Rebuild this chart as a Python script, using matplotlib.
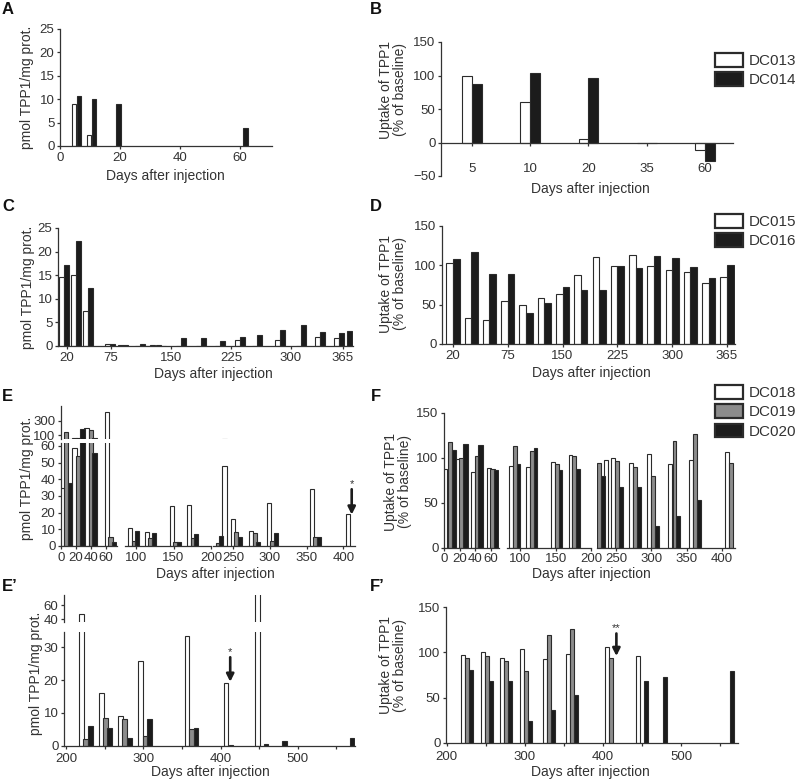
import matplotlib
matplotlib.use("Agg")
import matplotlib.pyplot as plt
from matplotlib.patches import Patch


# ------------------ CONFIG ------------------

plt.rcParams['font.family'] = ['Liberation Sans', 'DejaVu Sans']

W, H = 800, 779
INK = '#333333'
EDGE = '#2b2b2b'
WHITE, GRAY, BLACK = '#ffffff', '#8c8c8c', '#1c1c1c'
TICK_FS = 9.5
LABEL_FS = 10
XLABEL = "Days after injection"
UPTAKE = "Uptake of TPP1\n(% of baseline)"
PMOL = "pmol TPP1/mg prot."


# ------------------ DATA ------------------

# A: TPP1 level, DC013 (white) / DC014 (black)
a_dc013_days = [4.6, 9.7]
a_dc013 = [9.0, 2.3]
a_dc014_days = [6.3, 11.4, 19.5, 61.9]
a_dc014 = [10.6, 10.0, 9.0, 3.8]

# B: uptake, categorical days
b_days = ["5", "10", "20", "35", "60"]
b_dc013 = [100, 60, 5, 0, -11]
b_dc014 = [88, 104, 97, 0, -27]

# C: TPP1 level, DC015 / DC016
c_days = [16.6, 32, 46.6, 73.8, 90, 111, 124, 138, 163, 188, 211, 236, 257.5,
          286, 312.5, 336, 360, 370]
c_dc015 = [14.6, 15.0, 7.5, 0.4, 0.15, 0, 0, 0.3, 0, 0.1, 0.1, 1.2, 0,
           1.2, 0, 2.0, 1.8, 0]
c_dc016 = [17.2, 22.3, 12.2, 0.35, 0.3, 0.5, 0.3, 0, 1.7, 1.8, 1.0, 1.9, 2.3,
           3.4, 4.4, 3.0, 2.8, 3.1]
c_ticks = [20, 75, 150, 225, 300, 365]

# D: uptake, 16 timepoints
d_labels = ["20", "", "", "75", "", "", "150", "", "", "225", "", "", "300", "", "", "365"]
d_dc015 = [103, 33, 31, 55, 50, 58, 63, 88, 110, 99, 113, 99, 94, 91, 78, 85]
d_dc016 = [108, 117, 89, 89, 40, 52, 72, 69, 69, 99, 96, 112, 109, 98, 84, 100]

# E: TPP1 level, DC018 / DC019 / DC020
e_dc018_days = [1.3, 18, 34, 61, 92, 115, 148, 171, 238, 249.6, 274.4, 298.4, 357.6, 407]
e_dc018 = [35, 59, 200, 430, 10.9, 8.1, 24.2, 24.5, 48, 16, 9, 26, 34, 19]
e_dc019_days = [6.9, 23, 39.6, 66, 97, 119, 152.7, 176, 228.7, 254, 279, 303, 362]
e_dc019 = [137, 54, 175, 5.5, 3, 4.5, 2.5, 5, 2, 8.5, 8, 3, 5.5]
e_dc020_days = [12.4, 28.7, 44.7, 70.7, 101, 124, 157, 180, 233, 258.7, 283.7, 308, 366.4]
e_dc020 = [38, 190, 56, 2.4, 8.8, 7.5, 2.5, 7.3, 6, 5.5, 2.5, 8, 5.5]

# F: uptake, DC018 / DC019 / DC020
f_dc018_days = [1.3, 18, 37.2, 57.3, 87.7, 111.3, 146.7, 171, 236, 245.7, 271.7,
                296.6, 327, 356.8, 407.7]
f_dc018 = [88, 99, 84, 89, 91, 90, 95, 103, 97, 100, 94, 104, 93, 98, 106]
f_dc019_days = [8, 22.6, 41.9, 62, 93, 116.5, 151.9, 176.4, 226, 251, 277, 302.5,
                333, 362.5, 413.5]
f_dc019 = [117, 100, 102, 88, 113, 107, 93, 102, 94, 96, 90, 79.5, 119, 126, 94.5]
f_dc020_days = [13, 27.4, 46.8, 66.9, 97.6, 121.7, 157, 181.8, 231, 257, 282,
                307.7, 338, 368]
f_dc020 = [109, 115, 113.6, 86, 93, 111, 86, 87, 80, 68, 68, 23.6, 35.6, 53]

# E': TPP1 level, later timepoints
ep_dc018_days = [220, 245.7, 270.6, 296, 356.7, 407, 448]
ep_dc018 = [48, 16, 9, 26, 33.5, 19, 80]
ep_dc019_days = [225.5, 251, 276, 302, 362.3]
ep_dc019 = [2, 8.5, 8.2, 3, 5]
ep_dc020_days = [231.7, 256.3, 281.8, 307.8, 368, 413.5, 458.8, 482.6, 570]
ep_dc020 = [6, 5.5, 2.5, 8, 5.3, 0.3, 0.5, 1.5, 2.5]

# F': uptake, later timepoints
fp_dc018_days = [220.8, 246, 270.6, 295.8, 325.3, 354.7, 405, 444.7]
fp_dc018 = [97, 100, 94, 104, 93, 98, 106, 96]
fp_dc019_days = [226, 251.5, 276, 301.3, 330.7, 360.3, 410.3]
fp_dc019 = [94, 96, 90, 79, 119, 126, 94]
fp_dc020_days = [231.3, 256.6, 281.3, 306.4, 335.8, 365.6, 454.8, 479.4, 564.6]
fp_dc020 = [80, 68, 68, 24, 36, 53, 68, 73, 79]


# ------------------ HELPERS ------------------

fig = plt.figure(figsize=(W / 100, H / 100), dpi=100)


def px_axes(x0, x1, y_top, y_bot):
    ax = fig.add_axes([x0 / W, 1 - y_bot / H, (x1 - x0) / W, (y_bot - y_top) / H])
    ax.patch.set_alpha(0)
    for side in ("top", "right"):
        ax.spines[side].set_visible(False)
    for side in ("left", "bottom"):
        ax.spines[side].set_color(INK)
        ax.spines[side].set_linewidth(0.9)
    ax.tick_params(direction="out", length=2.5, width=0.9, pad=1.5,
                   colors=INK, labelsize=TICK_FS)
    return ax


def hide(ax, side):
    ax.spines[side].set_visible(False)
    if side == "left":
        ax.tick_params(axis="y", left=False, labelleft=False)
    else:
        ax.tick_params(axis="x", bottom=False, labelbottom=False)


def broken(xsegs, ysegs):
    # xsegs: (px0, px1, d0, d1); ysegs: (py_top, py_bot, v0, v1), bottom row first
    grid = []
    for j, (yt, yb, v0, v1) in enumerate(ysegs):
        row = []
        for i, (x0, x1, d0, d1) in enumerate(xsegs):
            ax = px_axes(x0, x1, yt, yb)
            ax.set_xlim(d0, d1)
            ax.set_ylim(v0, v1)
            if i > 0:
                hide(ax, "left")
            if j > 0:
                hide(ax, "bottom")
            row.append(ax)
        grid.append(row)
    return grid


def bars(ax, x, y, color, width):
    ax.bar(x, y, width, color=color, edgecolor=EDGE, linewidth=0.8, zorder=2)


def text_px(x, y, s, **kw):
    kw.setdefault("color", INK)
    fig.text(x / W, 1 - y / H, s, **kw)


def ylabel_px(x, y, s):
    text_px(x, y, s, rotation=90, ha="center", va="center", fontsize=LABEL_FS,
            linespacing=1.05, multialignment="center")


def xlabel_px(x, y):
    text_px(x, y, XLABEL, ha="center", va="center", fontsize=LABEL_FS)


def legend_px(names, colors, x, y):
    handles = [Patch(facecolor=c, edgecolor=EDGE, linewidth=1.6) for c in colors]
    fig.legend(handles, names, loc="upper left", bbox_to_anchor=(x / W, 1 - y / H),
               frameon=False, fontsize=11, labelcolor=INK, handlelength=1.85,
               handleheight=1.0, handletextpad=0.35, labelspacing=0.28,
               borderpad=0, borderaxespad=0)


def star_arrow(ax, x, y0, y1, label):
    ax.annotate("", xy=(x, y1), xytext=(x, y0),
                arrowprops=dict(arrowstyle="-|>", color=BLACK, lw=1.9,
                                mutation_scale=11, shrinkA=0, shrinkB=0))
    ax.text(x, y0, label, ha="center", va="bottom", fontsize=8, color=INK)


# ------------------ A ------------------

ax = px_axes(60, 272, 29, 146)
bars(ax, a_dc013_days, a_dc013, WHITE, 1.5)
bars(ax, a_dc014_days, a_dc014, BLACK, 1.5)
ax.set_xlim(0, 70.7)
ax.set_ylim(0, 25)
ax.set_xticks([0, 20, 40, 60])
ax.set_yticks(range(0, 26, 5))
ylabel_px(27, 87, PMOL)
xlabel_px(165, 176)

# ------------------ B ------------------

ax = px_axes(441, 733, 42, 176)
pos = list(range(len(b_days)))
bars(ax, [p - 0.085 for p in pos], b_dc013, WHITE, 0.17)
bars(ax, [p + 0.085 for p in pos], b_dc014, BLACK, 0.17)
ax.set_xlim(-0.53, 4.48)
ax.set_ylim(-50, 150)
ax.spines["bottom"].set_position(("data", 0))
ax.set_xticks(pos)
ax.set_xticklabels(b_days)
ax.tick_params(axis="x", pad=12)
ax.set_yticks(range(-50, 151, 50))
ylabel_px(393, 90, UPTAKE)
xlabel_px(590, 189)
legend_px(["DC013", "DC014"], [WHITE, BLACK], 715, 53)

# ------------------ C ------------------

ax = px_axes(58, 353, 228, 346)
bars(ax, [d - 3.1 for d in c_days], c_dc015, WHITE, 6.2)
bars(ax, [d + 3.1 for d in c_days], c_dc016, BLACK, 6.2)
ax.set_xlim(9.1, 377.5)
ax.set_ylim(0, 25)
ax.set_xticks(c_ticks)
ax.set_yticks(range(0, 26, 5))
ylabel_px(28, 287, PMOL)
xlabel_px(213, 374)

# ------------------ D ------------------

ax = px_axes(442, 735, 226, 344)
pos = list(range(len(d_labels)))
bars(ax, [p - 0.18 for p in pos], d_dc015, WHITE, 0.36)
bars(ax, [p + 0.18 for p in pos], d_dc016, BLACK, 0.36)
ax.set_xlim(-0.6, 15.44)
ax.set_ylim(0, 150)
tick_pos = [p for p, t in zip(pos, d_labels) if t]
ax.set_xticks(tick_pos)
ax.set_xticklabels([t for t in d_labels if t])
ax.set_yticks(range(0, 151, 50))
ylabel_px(393, 284, UPTAKE)
xlabel_px(591, 373)
legend_px(["DC015", "DC016"], [WHITE, BLACK], 715, 214)

# ------------------ E ------------------

seg_xticks = [[0, 20, 40, 60], [100, 150, 200], [250, 300, 350, 400]]
grid = broken([(61, 116.7, 0, 74.3), (125, 211, 85.3, 200), (213, 355, 222.3, 416)],
              [(443, 546, 0, 61.7), (406, 439, 43, 514)])
for row in grid:
    for i, ax in enumerate(row):
        bars(ax, e_dc018_days, e_dc018, WHITE, 5.5)
        bars(ax, e_dc019_days, e_dc019, GRAY, 5.5)
        bars(ax, e_dc020_days, e_dc020, BLACK, 5.5)
        ax.set_xticks(seg_xticks[i])
grid[0][0].set_yticks(range(0, 61, 10))
grid[1][0].set_yticks([100, 300])
star_arrow(grid[0][2], 411.5, 34, 18.8, "*")
ylabel_px(27, 478, PMOL)
xlabel_px(215, 574)

# ------------------ F ------------------

grid = broken([(444, 499, 0, 70.5), (506.7, 591, 81, 200), (596.7, 735, 222.6, 418.8)],
              [(412.7, 547.7, 0, 150)])
for i, ax in enumerate(grid[0]):
    bars(ax, f_dc018_days, f_dc018, WHITE, 5.5)
    bars(ax, f_dc019_days, f_dc019, GRAY, 5.5)
    bars(ax, f_dc020_days, f_dc020, BLACK, 5.5)
    ax.set_xticks(seg_xticks[i])
grid[0][0].set_yticks(range(0, 151, 50))
ylabel_px(398, 482, UPTAKE)
xlabel_px(591, 574)
legend_px(["DC018", "DC019", "DC020"], [WHITE, GRAY, BLACK], 715, 385)

# ------------------ E' ------------------

grid = broken([(64, 355, 197.4, 574)],
              [(631.7, 745.7, 0, 34.8), (595, 621.7, 36.7, 74)])
for row in grid:
    ax = row[0]
    bars(ax, ep_dc018_days, ep_dc018, WHITE, 6)
    bars(ax, ep_dc019_days, ep_dc019, GRAY, 6)
    bars(ax, ep_dc020_days, ep_dc020, BLACK, 6)
ax = grid[0][0]
ax.set_xticks([200, 300, 400, 500])
ax.set_xticks([250, 350, 450, 550], minor=True)
ax.tick_params(which="minor", length=2.5, width=0.9, color=INK)
ax.tick_params(axis="x", pad=3)
ax.set_yticks([0, 10, 20, 30])
grid[1][0].set_yticks([40, 60])
star_arrow(ax, 412.5, 27, 19.5, "*")
ylabel_px(36, 673, PMOL)
xlabel_px(210, 772)

# ------------------ F' ------------------

ax = px_axes(446, 738, 607.3, 742.7)
bars(ax, fp_dc018_days, fp_dc018, WHITE, 5.5)
bars(ax, fp_dc019_days, fp_dc019, GRAY, 5.5)
bars(ax, fp_dc020_days, fp_dc020, BLACK, 5.5)
ax.set_xlim(199, 572.6)
ax.set_ylim(0, 150)
ax.set_xticks([200, 300, 400, 500])
ax.set_xticks([250, 350, 450, 550], minor=True)
ax.tick_params(which="minor", length=2.5, width=0.9, color=INK)
ax.tick_params(axis="x", pad=3.5)
ax.set_yticks(range(0, 151, 50))
star_arrow(ax, 417, 121, 96, "**")
ylabel_px(393, 665, UPTAKE)
xlabel_px(590, 772)

# ------------------ PANEL LETTERS ------------------

letters = [("A", 2, 2), ("B", 370, 2), ("C", 2, 199), ("D", 370, 199),
           ("E", 2, 389), ("F", 371, 389), ("E\u2019", 2, 579), ("F\u2019", 370, 579)]
for letter, x, y in letters:
    text_px(x, y, letter, ha="left", va="top", fontsize=12, fontweight="bold",
            color="#111111")

fig.savefig("out.png", dpi=100)
